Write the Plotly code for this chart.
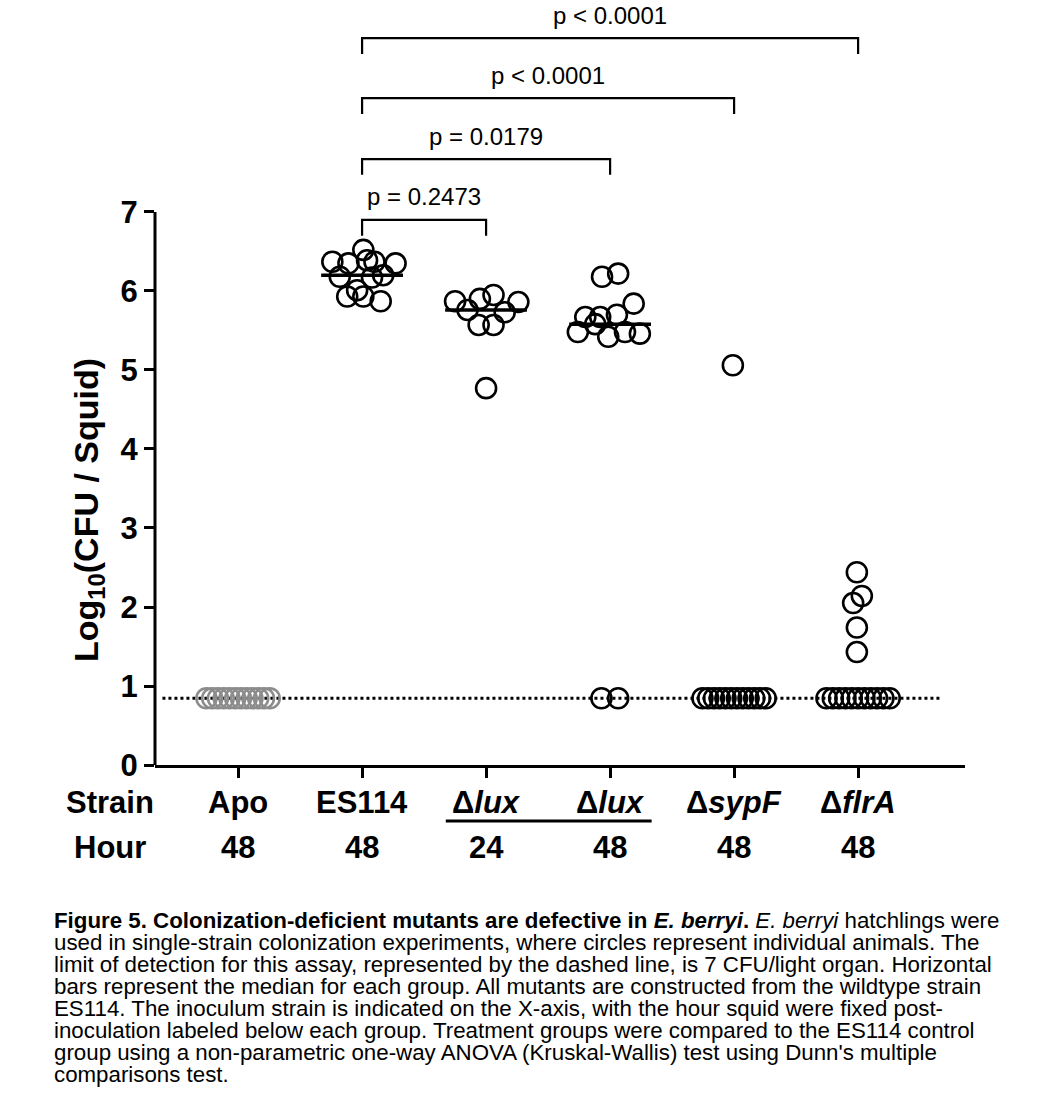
import numpy as np
import plotly.graph_objects as go

# ---------------- data ----------------
strain_labels = ["Apo", "ES114", "Δ<i>lux</i>", "Δ<i>lux</i>", "Δ<i>sypF</i>", "Δ<i>flrA</i>"]
hours = ["48", "48", "24", "48", "48", "48"]
LOD = 0.845  # log10(7 CFU / light organ)

apo_vals = [LOD] * 12
es114_vals = [6.52, 6.37, 6.35, 6.39, 6.37, 6.35, 6.18, 6.20, 5.93, 6.01, 5.93, 5.87, 6.17]
lux24_vals = [5.87, 5.90, 5.95, 5.86, 5.76, 5.73, 5.57, 5.57, 4.77]
lux48_vals = [6.18, 6.22, 5.84, 5.67, 5.67, 5.70, 5.48, 5.58, 5.42, 5.48, 5.46, LOD, LOD]
sypf_vals = [5.06] + [LOD] * 12
flra_vals = [2.44, 2.14, 2.05, 1.74, 1.43] + [LOD] * 11

# scatter (jitter) offsets; points without one are spread along the LOD
apo_jit = []
es114_jit = [0.01, -0.24, -0.11, 0.04, 0.10, 0.27, -0.18, 0.17, -0.12, -0.04, 0.01, 0.15, 0.08]
lux24_jit = [-0.25, -0.05, 0.06, 0.26, -0.15, 0.15, -0.06, 0.06, 0.0]
lux48_jit = [-0.065, 0.065, 0.19, -0.20, -0.08, 0.055, -0.26, -0.12, -0.015, 0.12, 0.24, -0.07, 0.065]
sypf_jit = [-0.01]
flra_jit = [-0.01, 0.03, -0.04, -0.01, -0.01]

groups_vals = [apo_vals, es114_vals, lux24_vals, lux48_vals, sypf_vals, flra_vals]
groups_jit = [apo_jit, es114_jit, lux24_jit, lux48_jit, sypf_jit, flra_jit]
group_colors = ["#8c8c8c", "black", "black", "black", "black", "black"]

comp_pairs = [(1, 2), (1, 3), (1, 4), (1, 5)]
p_texts = ["p = 0.2473", "p = 0.0179", "p < 0.0001", "p < 0.0001"]
bracket_levels = [6.90, 7.67, 8.44, 9.20]

caption_lines = [
    "<b>Figure 5. Colonization-deficient mutants are defective in <i>E. berryi</i>.</b> <i>E. berryi</i> hatchlings were",
    "used in single-strain colonization experiments, where circles represent individual animals. The",
    "limit of detection for this assay, represented by the dashed line, is 7 CFU/light organ. Horizontal",
    "bars represent the median for each group. All mutants are constructed from the wildtype strain",
    "ES114. The inoculum strain is indicated on the X-axis, with the hour squid were fixed post-",
    "inoculation labeled below each group. Treatment groups were compared to the ES114 control",
    "group using a non-parametric one-way ANOVA (Kruskal-Wallis) test using Dunn's multiple",
    "comparisons test.",
]

# ---------------- layout geometry ----------------
W, H = 1042, 1104
ML, MR, MT, MB = 155, 77, 5, 339
PW, PH = W - ML - MR, H - MT - MB
XR = [-0.67, 5.862]
YR = [0, 9.62]
FONT = "Liberation Sans, Arial, Helvetica, sans-serif"


def px_x(px):
    return (px - ML) / PW


def px_y(py):
    return (H - MB - py) / PH


fig = go.Figure()

# limit of detection (dotted)
fig.add_trace(go.Scatter(x=[-0.61, 5.66], y=[LOD, LOD], mode="lines",
                         line=dict(color="black", width=3, dash="dot"),
                         hoverinfo="skip", showlegend=False))

# medians
for i, vals in enumerate(groups_vals):
    med = float(np.median(vals))
    if med > LOD + 1e-9:
        fig.add_trace(go.Scatter(x=[i - 0.33, i + 0.33], y=[med, med], mode="lines",
                                 line=dict(color="black", width=3.5),
                                 hoverinfo="skip", showlegend=False))

# points
for i, (vals, jit, col) in enumerate(zip(groups_vals, groups_jit, group_colors)):
    n_rest = len(vals) - len(jit)
    spread = list(np.linspace(-0.255, 0.255, n_rest)) if n_rest > 0 else []
    offs = list(jit) + spread
    xs = [i + o for o in offs]
    fig.add_trace(go.Scatter(x=xs, y=vals, mode="markers",
                             marker=dict(symbol="circle-open", size=20, color=col,
                                         line=dict(width=2.6, color=col)),
                             showlegend=False))

# comparison brackets
for (a, b), txt, lvl in zip(comp_pairs, p_texts, bracket_levels):
    fig.add_trace(go.Scatter(x=[a, a, b, b], y=[lvl - 0.2, lvl, lvl, lvl - 0.2], mode="lines",
                             line=dict(color="black", width=2.2),
                             hoverinfo="skip", showlegend=False))
    fig.add_annotation(x=(a + b) / 2, y=lvl + 0.29, xref="x", yref="y", text=txt,
                       showarrow=False, font=dict(size=24, color="black", family=FONT),
                       xanchor="center", yanchor="middle")

# y axis line (0..7 only)
fig.add_shape(type="line", xref="paper", yref="y", x0=0, x1=0, y0=0, y1=7,
              line=dict(color="black", width=3))

# x category rows
for i, (lab, hr) in enumerate(zip(strain_labels, hours)):
    fig.add_annotation(x=i, y=px_y(802), xref="x", yref="paper", text=lab, showarrow=False,
                       font=dict(size=31, color="black", family=FONT, weight="bold"),
                       xanchor="center", yanchor="middle")
    fig.add_annotation(x=i, y=px_y(847), xref="x", yref="paper", text=hr, showarrow=False,
                       font=dict(size=31, color="black", family=FONT, weight="bold"),
                       xanchor="center", yanchor="middle")
for txt, py in [("Strain", 802), ("Hour", 847)]:
    fig.add_annotation(x=px_x(110), y=px_y(py), xref="paper", yref="paper", text=txt,
                       showarrow=False,
                       font=dict(size=31, color="black", family=FONT, weight="bold"),
                       xanchor="center", yanchor="middle")

# underline grouping the two Δlux time points
fig.add_shape(type="line", xref="x", yref="paper", x0=1.675, x1=3.335,
              y0=px_y(821), y1=px_y(821), line=dict(color="black", width=3))

# y axis title
fig.add_annotation(x=px_x(88), y=px_y(510), xref="paper", yref="paper",
                   text="Log<sub>10</sub>(CFU / Squid)", textangle=-90, showarrow=False,
                   font=dict(size=34, color="black", family=FONT, weight="bold"),
                   xanchor="center", yanchor="middle")

# caption
for k, line in enumerate(caption_lines):
    fig.add_annotation(x=px_x(52), y=px_y(920 + k * 22.0), xref="paper", yref="paper",
                       text=line, showarrow=False, align="left",
                       font=dict(size=22.3, color="black", family=FONT),
                       xanchor="left", yanchor="middle")

fig.update_layout(
    width=W, height=H,
    margin=dict(l=ML, r=MR, t=MT, b=MB, pad=0),
    paper_bgcolor="white", plot_bgcolor="white",
    font=dict(family=FONT, color="black"),
    showlegend=False,
    xaxis=dict(range=XR, showgrid=False, zeroline=False, showline=True, linecolor="black",
               linewidth=3, ticks="outside", ticklen=10, tickwidth=3, tickcolor="black",
               tickvals=list(range(6)), showticklabels=False, fixedrange=True),
    yaxis=dict(range=YR, showgrid=False, zeroline=False, showline=False,
               ticks="outside", ticklen=10, tickwidth=3, tickcolor="black",
               tickvals=list(range(8)), ticktext=[str(v) for v in range(8)],
               tickfont=dict(size=31, color="black", family=FONT, weight="bold"),
               fixedrange=True),
)

fig.write_html("out.html", post_script="document.body.style.margin='0px';",
               config={"displayModeBar": False})
